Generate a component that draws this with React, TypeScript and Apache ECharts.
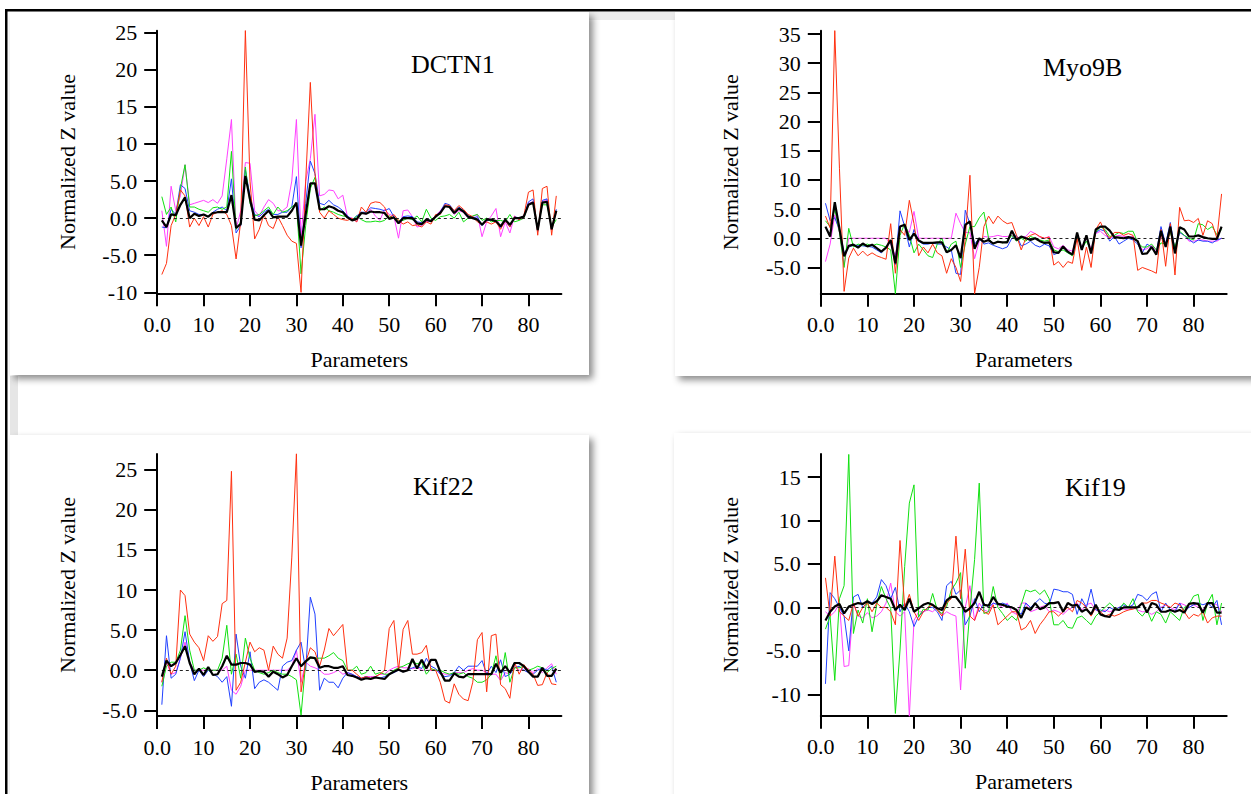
import React, { useEffect, useRef } from "react";
import * as echarts from "echarts";

// Parameter index (x) for every series
const PARAMS = Array.from({ length: 86 }, (_, i) => i + 1);
const X_TICKS = [0, 10, 20, 30, 40, 50, 60, 70, 80];
const TITLES = ["DCTN1", "Myo9B", "Kif22", "Kif19"];
const Y_TICKS = [
  [-10, -5, 0, 5, 10, 15, 20, 25],
  [-5, 0, 5, 10, 15, 20, 25, 30, 35],
  [-5, 0, 5, 10, 15, 20, 25],
  [-10, -5, 0, 5, 10, 15],
];
const Y_RANGE = [
  [-10.13, 25.27],
  [-9.5, 35.57],
  [-5.71, 26.96],
  [-12.46, 17.65],
];

// ---- DCTN1 ----
const dctn1Red = [-7.6,-6.1,-1,0.5,3.8,3,-1.2,0,-1,0.2,-1.2,0.5,0.8,1,0.5,-1,-5.5,-0.5,25.3,5,-2.8,-1.5,0.5,-1,-1.4,0.2,-1,-2.3,-3.1,-3.4,-10,5,18.3,6,0.8,0,1,0.5,0,-0.2,-0.3,0,-0.5,1.5,0.8,2,2.2,2.1,1.5,0,0.5,-0.3,-0.8,-0.5,-1,-0.9,-1.2,-0.5,-0.8,0.5,0.5,1.8,1.7,1,1.7,1.2,0.5,0.2,-0.5,-0.8,-0.5,-0.8,-0.5,-1.5,-0.3,-1.2,0.2,-0.2,0.3,3.5,3.8,-2.3,4,4.3,-2.3,3];
const dctn1Green = [2.9,0.5,1.5,-0.5,4,7.2,1.5,1.5,1.2,1,0.8,1.4,1.5,1.2,1.5,9,-1.5,-0.5,6.9,2,0.3,0.5,1,1.5,0.5,1.5,0.8,1,1.5,2,-7.5,-1,4,5.5,1,1.5,1,0.8,0.5,0.3,0.2,-0.3,0.3,-0.2,-0.5,-0.5,-0.4,-0.5,-0.3,0.3,0,-0.3,-0.3,0,-0.2,0.3,-0.5,1.2,0,-0.3,0.2,0.3,0.5,0,0.8,-0.5,0,0.3,0.5,-0.3,0,-0.5,-0.3,-0.3,-0.5,0.5,-0.5,-0.3,0,1.8,2,-1.3,1.8,1.8,-1.2,-0.2];
const dctn1Blue = [-1.2,-1.3,1.2,0.5,4.5,4,1,0.8,0.5,0.5,0.2,0.8,1.2,1.5,1,5.3,-2,-1,6.5,3,0.5,0.2,0.8,1.2,0.5,0.5,0.8,0.8,1.5,5.6,-4,2,7.7,6,2,1.8,2.4,1.8,1.5,1,0.3,-0.2,0.3,0.8,0.8,1.4,1.3,1.2,1,1.3,0.2,-0.5,0.2,0.3,0.2,-0.5,-0.6,-0.2,-0.3,0.3,0.8,2,1.8,1,1.5,1,0.3,0,0.2,-1,-0.3,-0.3,-0.5,-1.3,-0.3,-1.2,0.2,0,0.3,2.2,2.6,-1.8,2.4,2.6,-1.6,1.2];
const dctn1Magenta = [1,-3.8,4.3,1,3,7.2,1.8,2,2.2,2.4,2.1,2.5,2,3,8,13.3,-1.5,1,7.5,7.4,1,0.3,1.5,2.5,2,1,1,1.5,5,13.3,-2.5,5,8,14,3,3.2,3.8,3.7,2.6,3.1,0.2,0,-0.5,0.8,0.5,1.2,0.3,-0.3,1.2,0.5,0.3,-2.7,1,1.1,0.2,-1.2,-1,-0.5,-0.3,0.3,1,1.8,1.5,0.5,1,0.8,0,0.2,0.5,-2.5,-0.5,0.3,1.3,-2.5,-0.5,-2,0.3,-0.2,0,2,2.2,-1.5,2.2,2.5,-1.5,0.8];
const dctn1Black = [-0.3,-1.2,0.5,0.4,1.8,2.8,0,0.6,0.3,0.5,0.2,0.7,0.8,0.8,0.8,3.1,-1.3,-0.8,5.7,2.5,-0.2,-0.3,0.4,1,0.1,0.2,0.2,0.2,1,2.1,-3.7,0.5,4.7,4.7,1.2,1.2,1.6,1.4,1,0.8,0.1,-0.3,-0.1,0.7,0.6,0.9,0.8,0.8,0.7,-0.1,0.1,-0.7,0,0,0,-0.7,-0.8,-0.2,-0.4,0.2,0.7,1.6,1.5,0.7,1.3,0.9,0.2,0,-0.2,-0.9,-0.2,-0.2,-0.4,-1.1,-0.2,-0.9,0,0,0.2,1.8,2.1,-1.6,2.1,2.2,-1.5,1];

// ---- Myo9B ----
const myo9bRed = [3.8,1.8,35.6,12,-9.1,-3.4,-1.7,-3,-2.2,-3,-2.5,-3,-3.3,-3.6,2.5,-6,1.5,0.5,6.5,2.5,-3,-1.5,-2.5,-1,-2.5,-3,-6,-3.5,-5,-7.4,0,10.8,-9.5,-5,2,3.8,2.5,3.8,3,2.5,2.7,0.5,-2,0,0.5,0.8,0.3,0,0.2,-4.6,-4,-5,-4,-4.3,0,-5.5,-1.5,-5,1.5,2.8,1,0,1,1,0.5,0.8,0.5,-5.5,-5,-5.3,-5.6,-6,1.5,-4.8,2.5,-6.3,5.3,3,3.1,2.7,3.4,0.5,3,2.5,0,7.6];
const myo9bGreen = [3,2,5,1,-5,1.7,-1.5,-1,-1.2,-1,-1.3,-1,-1.2,-1.5,-2,-9.5,0.5,2.5,0.5,-2.5,-1,-2,-3,-3.3,-1,0,-2.5,-1,-0.5,-5,-1,2,2,3.5,4.5,0,-1,-0.5,-0.8,-0.5,0.5,-0.5,0,-0.5,0.3,0,-0.3,-0.5,-0.3,-2,-2.3,-2,-2.5,-3,0.5,-1.8,-0.5,-2.2,1,2,1.5,0.3,0.5,1,0.8,1.2,1.2,-0.7,-1.5,-1.5,-1,-2,-0.8,-1,1,-1.5,1.2,0.5,0,-0.3,2.5,2.3,1.5,2,0.6,1.5];
const myo9bBlue = [6,3,3.5,1.5,-2.5,-1.5,-1.2,-1.2,-1.3,-1.4,-1.5,-2,-2.5,-1.5,-0.5,-4.5,4.7,2,-1.5,1.5,-0.5,-1,-1,-0.8,-1,-1,-1.5,-2,-6,-6.2,4.8,2.5,-1,0,-1,-0.8,-1.2,-1.5,-1.8,-1.5,0,0.5,-1.3,-1,-0.5,-1.2,-1.5,-1,-1.3,-2.8,-2.5,-1.5,-2.5,-2.8,0.8,-2,0.3,-2.5,1,1.5,1.2,-0.5,0.3,-1,-0.5,0,-0.3,-1,-2.5,-1,-1.5,-2.5,2,-1,2.7,-2,1,0.5,-0.2,-0.8,-0.3,-0.5,-0.5,-0.8,-0.3,0];
const myo9bMagenta = [-4,-1,4,1,-4.6,0,0,0,0,0,0,0,0,0,-1,-3,2,2,1,4.6,0,0,0,0,0,0,0,0,4.3,2.5,1,1,-3.5,-0.5,0.3,0.2,0.3,0.5,0.3,0.3,0.5,0,0.2,0.3,1.2,0.8,0.2,0,0.3,-1.5,-1.8,-1.2,-2,-2.2,0.5,-1.5,0,-1.8,0.8,1.2,0.5,0,0.3,0.5,0.3,0.2,0.3,-0.5,-2,-1.8,-1.2,-2.2,0.5,-1,1.5,-2,1,0.5,-0.5,-0.5,-0.3,-0.3,-0.5,-0.5,-0.5,0];
const myo9bBlack = [2,0.3,6.2,1.7,-3.1,-1.3,-1.1,-1.6,-0.9,-1.4,-1.1,-1.7,-2.3,-1.6,-0.3,-4.3,2,2.3,-0.3,0.8,-0.4,-0.8,-0.8,-0.8,-0.7,-0.7,-2.4,-2,-1.2,-3.4,2.3,2.9,-1.8,0,-0.6,-0.3,-0.9,-0.6,-0.7,-0.7,1.3,-0.3,0.3,0,-0.3,0,-0.5,-0.8,-0.7,-2.4,-2.5,-1.4,-2.3,-2.8,1,-2,0.5,-2.6,1.5,2,2,1.3,0.2,0.1,0,0.2,0,-0.5,-2.7,-2.6,-1.5,-2.8,1.3,-1.5,2,-2.6,1.9,1.5,0.3,0.3,0.5,0.2,0,-0.1,-0.1,2];

// ---- Kif22 ----
const kif22Red = [-1.5,1.5,-0.5,0.5,10,9.3,4.5,3.5,2.8,1.2,4.3,3.6,4.2,8.3,8.7,24.8,-2.5,-1.5,1,3.5,2.3,2.8,2.5,0,3,2,1.5,4,14,27,-2.7,1,2.8,2.3,0.5,2.5,5.2,4.3,5,5.7,0,0,-0.5,-1,-0.8,-1,-0.8,-0.5,0,5.2,6.2,0,5.1,6.2,2,2,2.2,3.1,0,0,-1.5,-3.8,-4.1,-1.7,-3,-3.6,-3.8,-1.5,3.8,4.7,-2.7,4.3,4.5,-1.8,-2.3,-3.5,1,-0.5,0.7,0,-0.5,-1.9,-1.8,-0.3,-1.7,-1.8];
const kif22Green = [-2,0.5,1,1,2.5,6.8,2.5,0,0,0.3,0,0,0,1.5,5.6,-0.5,2,-1,4,1.5,0,-0.3,-0.5,-0.3,0,-0.3,-0.5,-0.5,-0.8,-1.2,-5.6,1,1.5,1.5,1.5,1.5,1.8,2.2,1.5,1.2,0,0,0.5,-0.5,-0.3,0.5,-0.5,-0.3,-0.5,-0.5,0,0.3,0.5,0.8,1,0.8,1,-0.5,0.2,0,0,-0.3,-0.5,-0.3,-0.5,-0.3,-0.8,-1,-1.5,-1.5,-1.2,-0.5,1.8,-1.2,2.2,-1.5,0.3,0.3,0.5,0,0.2,0.5,0.3,-0.3,0.2,0.5];
const kif22Blue = [-4.3,4.3,-1,-0.5,1.5,4.8,1,-1.3,0,-0.8,0,-0.5,-0.8,-1.5,-0.8,-4.5,4.5,0.5,-1,2.3,-2.3,-1.5,-1.2,-1.5,-2,-2.5,0.5,1,1.2,2.5,3.5,0,9.1,7,-2.5,-1,-1.5,-1.5,-2.2,-1,-0.3,-0.5,-0.8,-1,-0.8,-1,-0.8,-1,-0.8,-0.5,-0.3,0,-0.2,0,0.3,0.5,0.2,1.5,0.5,0.2,-0.5,-0.8,-0.7,-0.3,0.5,0,0.5,0.5,0.5,1.2,-0.5,0.5,-0.3,1.3,-0.8,-0.5,0.3,0.5,0,-0.3,-0.5,0,0.3,0,0.5,-1.5];
const kif22Magenta = [-1.5,1,-0.5,-0.3,1.5,3.5,1,0,0,0,0,0,0,0,0.5,-2.5,-3,-2,0,0,0,0,0,0,0,0,0,0,0.5,2.5,-1.5,1,0.5,0.3,0,-0.5,-0.5,-0.3,0,-0.5,-0.3,-0.5,-0.8,-1,-0.8,-0.8,-0.8,-0.5,-0.5,0,0.3,0.5,0.3,0.3,0.2,0.3,0,0,0,0,-0.3,-0.5,-0.5,-0.3,-0.3,-0.3,0,0.2,0,0,-0.3,-0.5,-0.5,-1.3,-0.3,-0.5,0.5,0,0,0.2,-0.3,0.2,-0.3,0.3,0.8,-0.5];
const kif22Black = [-0.8,1.2,0.5,0.9,1.9,3,0.9,-0.5,0.2,-0.6,0.4,-0.6,-0.5,0.5,1.8,0.7,0.7,0.9,0.9,0.7,-0.2,-0.1,-0.2,-0.8,-0.2,-0.5,-0.9,-0.6,0.5,1.5,0.5,1.1,1.6,1.5,0.3,0.5,0.5,0.3,0.3,0.5,-0.6,-0.7,-0.9,-1.2,-1,-1.1,-0.9,-1,-1.1,-0.5,-0.2,0.1,-0.2,0,1.4,0.2,1.3,0.2,1.3,1.3,-0.2,-1.3,-1.3,-0.4,-0.8,-0.9,-0.5,-0.5,-0.5,-0.5,-0.5,-0.5,0.8,-0.3,0.5,-0.3,0.9,0.9,0.5,-0.2,-0.8,-0.8,0.3,-0.7,-0.7,0.2];

// ---- Kif19 ----
const kif19Red = [3.4,-1,5.9,-0.5,-1,-1.5,0.5,-1,0,0.5,-0.5,0.5,0,0,-0.5,-2,7.7,0,1.5,-0.5,-1.5,-0.5,0,0.3,-0.3,-1,0.5,1,8.2,1,6.7,-1,-1.5,0,-0.5,-0.8,0.3,-2,-1.5,-1,-0.5,-0.5,-2.6,-2.3,-1.5,-3,-2,-1.3,-0.5,-0.5,-1,-0.5,0,-0.5,0.8,0.5,0,-1,0,-0.5,-1,-0.8,-1,-0.8,-0.5,-0.3,-0.2,0,0.5,0.5,0.8,0.8,0.5,0.3,0,0.5,0.3,-0.5,-1.3,-0.8,-1,-0.5,-1.8,-1.2,-1,-1];
const kif19Green = [-2.5,-1,-8.4,1,2.5,17.6,-3,-0.3,-1.8,1,-2.8,0.3,2.4,1,-0.1,-12.2,-4.9,4.7,12,14.1,-1.1,-0.2,-0.3,1.6,-0.3,-0.7,0.1,2,2.8,4,-7,-0.3,5.5,14.3,-0.7,-0.5,2.4,0,-0.7,-1.5,-1,-1.5,0.3,2,1.8,2,1.5,2,1,-2,-2,-1.5,-2.3,-2.4,-1.2,-1,-1.5,-2,-1,-0.5,0,0.5,0,-0.3,0.5,0,1,-0.5,-1,-0.3,-1.6,-0.5,-0.8,-1.8,-0.5,-1,-1.5,0,0.3,1.3,1.5,-1.5,0.5,1.5,-2,0.5];
const kif19Blue = [-8.8,1.7,1,0,-1,-5,1.2,1.5,0,0.5,0.5,1.2,3.2,2.5,1,2.3,-0.5,0.5,-0.5,-2.2,-1,-0.5,0,0,-0.5,-1.5,2.5,3,1.5,2,-2,-1,1,-0.5,0.5,0,0.5,0.3,0.5,0.3,0,-0.3,-0.8,0.5,0,0.5,1,0.5,0.3,2.1,2,1.8,1.8,1.5,-0.8,1,0,2.1,-0.3,-0.3,-0.5,0,-0.3,0,0.3,0,0.3,1.5,1.3,0.8,1.5,1.8,-0.5,0.5,-0.3,-0.5,0.5,-0.5,0,0.3,0.5,0.3,0.5,0,0.8,-2];
const kif19Magenta = [-0.5,-1,-0.5,0.5,-6.8,-6.7,0.5,-1,-1.2,-0.6,-1.2,-1,-0.5,0.5,2.8,-0.5,-1,-0.5,-12.6,-1.5,-0.5,-0.5,-0.3,-0.5,0,-1,-0.5,-0.8,-1,-9.5,0,2.5,-1.5,0.5,-0.3,-0.5,0.5,0.3,0,0.5,-0.5,-0.8,0.5,0.5,-0.5,-0.3,0,0.2,-0.5,-0.3,-0.5,-0.8,-0.3,0,0.5,-0.3,0.3,0.5,-0.3,-0.5,-0.3,-0.5,-0.3,0,-0.2,-0.3,0,-0.3,-0.5,-0.5,-0.8,-0.5,0,0.3,0,-0.3,0.5,0.3,0,0.3,0,-0.3,0.5,0.5,0.3,-0.5];
const kif19Black = [-1.5,-0.5,0.1,0.4,-0.7,0.1,0.3,0.5,0.4,0.7,0.4,0.7,1.4,1.2,1,-0.3,0.3,-0.3,1,-0.5,-0.1,0.3,0.5,0.3,-0.1,-0.3,0.8,1.2,1.2,0.5,-0.5,-0.1,0.5,1.8,0.3,0.2,1.2,0.4,0.3,0.1,0,-0.3,-1.2,0,-0.3,0.5,-0.2,0,0.5,0.5,0.6,-0.5,0.5,0.2,0.3,-0.5,-0.2,-0.8,0.3,-0.8,-1,-1.1,-0.2,-0.3,0,0,0,0,0.5,-0.6,0.5,0.3,-0.5,-0.5,-0.3,-0.5,-0.3,-0.6,0.4,0.5,0.4,-0.6,0.5,0.5,-0.6,-0.6];

const PANEL_DATA = [
  { red: dctn1Red, green: dctn1Green, blue: dctn1Blue, magenta: dctn1Magenta, black: dctn1Black },
  { red: myo9bRed, green: myo9bGreen, blue: myo9bBlue, magenta: myo9bMagenta, black: myo9bBlack },
  { red: kif22Red, green: kif22Green, blue: kif22Blue, magenta: kif22Magenta, black: kif22Black },
  { red: kif19Red, green: kif19Green, blue: kif19Blue, magenta: kif19Magenta, black: kif19Black },
];

const COLORS: Record<string, string> = {
  red: "#ff3010",
  green: "#10e010",
  blue: "#2040ff",
  magenta: "#ff40ff",
  black: "#000000",
};

const FONT = "'Liberation Serif', 'Times New Roman', serif";

const GRIDS = [
  { left: 157.2, top: 30.7, width: 404.2, height: 262.6 },
  { left: 820.8, top: 30.7, width: 405.9, height: 263 },
  { left: 157.2, top: 454, width: 404.2, height: 262 },
  { left: 820.8, top: 454, width: 405.9, height: 261.7 },
];
const TITLE_POS = [
  { left: 411, top: 51 },
  { left: 1043, top: 54 },
  { left: 413, top: 473 },
  { left: 1065, top: 474 },
];

function fmtY(v: number) {
  return Math.abs(v) >= 10 ? String(v) : v.toFixed(1);
}

export default function App() {
  const ref = useRef<HTMLDivElement>(null);
  useEffect(() => {
    if (!ref.current) return;
    const chart = echarts.init(ref.current, null, { renderer: "svg" });

    const xAxis: any[] = [];
    const yAxis: any[] = [];
    const series: any[] = [];
    GRIDS.forEach((_, i) => {
      xAxis.push({
        type: "value",
        gridIndex: i,
        min: 0,
        max: 87.1,
        name: "Parameters",
        nameLocation: "middle",
        nameGap: 55,
        nameTextStyle: { fontFamily: FONT, fontSize: 22, color: "#000" },
        axisLine: { show: true, onZero: false, lineStyle: { color: "#000", width: 2 } },
        axisTick: { show: true, length: 13, lineStyle: { color: "#000", width: 2 }, customValues: X_TICKS },
        axisLabel: {
          fontFamily: FONT,
          fontSize: 22,
          color: "#000",
          margin: 20,
          customValues: X_TICKS,
          formatter: (v: number) => (v === 0 ? "0.0" : String(v)),
        },
        splitLine: { show: false },
      });
      yAxis.push({
        type: "value",
        gridIndex: i,
        min: Y_RANGE[i][0],
        max: Y_RANGE[i][1],
        name: "Normalized Z value",
        nameLocation: "middle",
        nameGap: 79,
        nameTextStyle: { fontFamily: FONT, fontSize: 22, color: "#000" },
        axisLine: { show: true, onZero: false, lineStyle: { color: "#000", width: 2 } },
        axisTick: { show: true, length: 13, lineStyle: { color: "#000", width: 2 }, customValues: Y_TICKS[i] },
        axisLabel: {
          fontFamily: FONT,
          fontSize: 22,
          color: "#000",
          margin: 20,
          customValues: Y_TICKS[i],
          formatter: (v: number) => fmtY(v),
        },
        splitLine: { show: false },
      });
      const d: any = PANEL_DATA[i];
      ["magenta", "blue", "green", "red", "black"].forEach((key) => {
        const s: any = {
          type: "line",
          name: TITLES[i] + " " + key,
          xAxisIndex: i,
          yAxisIndex: i,
          data: PARAMS.map((x, k) => [x, d[key][k]]),
          showSymbol: false,
          symbol: "none",
          lineStyle: { color: COLORS[key], width: key === "black" ? 2.2 : 1 },
          itemStyle: { color: COLORS[key] },
          z: key === "black" ? 5 : 3,
          silent: true,
        };
        if (key === "black") {
          s.markLine = {
            silent: true,
            symbol: ["none", "none"],
            label: { show: false },
            lineStyle: { color: "#222", width: 1, type: [3, 3] },
            data: [[{ coord: [1, 0] }, { coord: [87.1, 0] }]],
            z: 4,
          };
        }
        series.push(s);
      });
    });

    const title = TITLES.map((t, i) => ({
      text: t,
      left: TITLE_POS[i].left,
      top: TITLE_POS[i].top,
      padding: 0,
      textStyle: { fontFamily: FONT, fontSize: 26, fontWeight: "normal", color: "#000" },
    }));

    const shadow = { shadowBlur: 7, shadowColor: "rgba(0,0,0,0.45)", shadowOffsetX: 4, shadowOffsetY: 4 };
    const graphic = [
      { type: "rect", z: -10, shape: { x: 589, y: 12, width: 90, height: 8 }, style: { fill: "#ececec" } },
      { type: "rect", z: -10, shape: { x: 10, y: 376, width: 8, height: 60 }, style: { fill: "#e6e6e6" } },
      { type: "rect", z: -5, shape: { x: 10, y: 12, width: 579, height: 363 }, style: { fill: "#fff", ...shadow } },
      { type: "rect", z: -5, shape: { x: 675, y: 12, width: 590, height: 364 }, style: { fill: "#fff", ...shadow } },
      { type: "rect", z: -5, shape: { x: 10, y: 435, width: 579, height: 380 }, style: { fill: "#fff", ...shadow } },
      { type: "rect", z: -5, shape: { x: 674, y: 433, width: 590, height: 380 }, style: { fill: "#fff", ...shadow } },
      { type: "rect", z: 10, shape: { x: 5, y: 9, width: 1246, height: 2.5 }, style: { fill: "#000" } },
      { type: "rect", z: 10, shape: { x: 5, y: 9, width: 2.5, height: 790 }, style: { fill: "#000" } },
    ];

    chart.setOption({
      animation: false,
      backgroundColor: "#fff",
      title,
      grid: GRIDS.map((g) => ({ ...g, containLabel: false })),
      xAxis,
      yAxis,
      series,
      graphic,
    });
    return () => chart.dispose();
  }, []);
  return (
    <div
      ref={ref}
      style={{ position: "absolute", left: 0, top: 0, width: 1251, height: 794 }}
    />
  );
}
